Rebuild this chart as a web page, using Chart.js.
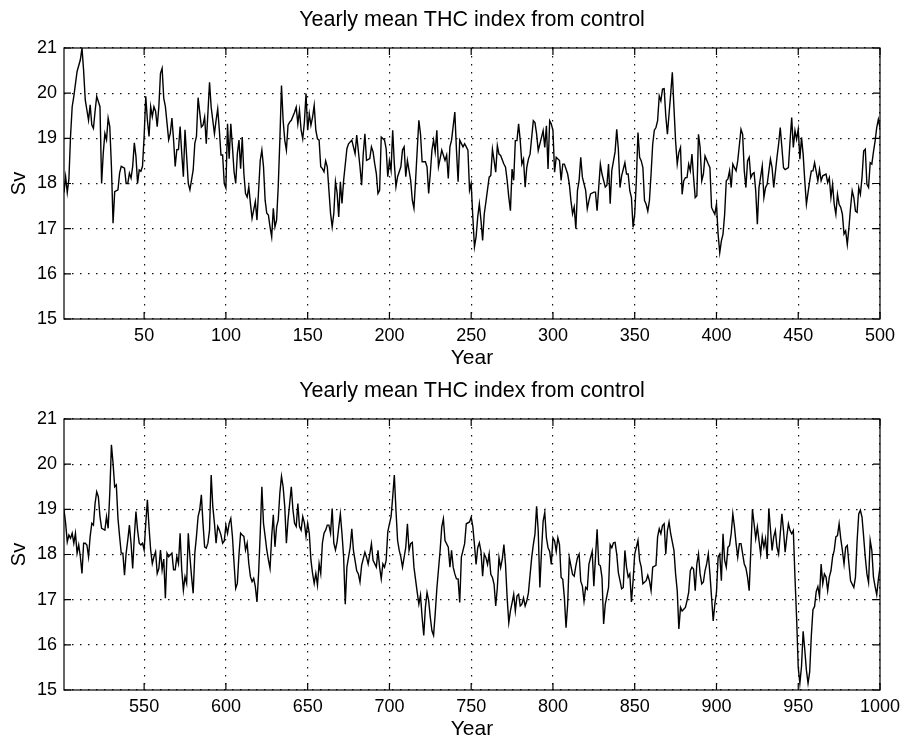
<!DOCTYPE html>
<html>
<head>
<meta charset="utf-8">
<script src="https://cdn.jsdelivr.net/npm/chart.js@4.4.0/dist/chart.umd.min.js"></script>
<style>
  html, body { margin: 0; padding: 0; background: #fff; }
  .panel { position: absolute; left: 0; width: 908px; height: 371px; }
</style>
</head>
<body>
<div class="panel" style="top:0"><canvas id="topChart"></canvas></div>
<div class="panel" style="top:371px"><canvas id="bottomChart"></canvas></div>
<script>
// Judul dan label
const chartTitle = 'Yearly mean THC index from control';
const xLabel = 'Year';
const yLabel = 'Sv';

// Tick label
const svTicks = [15, 16, 17, 18, 19, 20, 21];
const topYearTicks = [50, 100, 150, 200, 250, 300, 350, 400, 450, 500];
const bottomYearTicks = [550, 600, 650, 700, 750, 800, 850, 900, 950, 1000];

// Panel atas: tahun 1 - 500
const topYears = [
  1,2,3,4,5,6,7,9,11,12,
  13,14,16,17,18,19,20,21,23,24,
  25,26,27,28,29,30,31,32,34,35,
  36,38,39,40,41,42,43,44,45,46,
  47,48,49,50,51,52,53,54,55,56,
  57,58,59,60,61,62,63,65,66,67,
  68,69,70,71,72,73,74,75,76,77,
  78,80,81,82,83,85,86,87,88,90,
  91,93,94,95,96,97,98,99,100,101,
  102,103,104,105,106,107,108,109,110,111,
  112,113,114,115,116,118,119,120,121,122,
  123,124,125,126,127,128,129,130,131,132,
  133,134,135,136,137,138,139,140,142,143,
  144,145,146,147,148,149,150,151,152,153,
  154,155,156,157,158,159,160,161,162,163,
  164,165,166,167,168,169,170,171,172,174,
  175,177,178,179,180,182,183,184,185,186,
  188,189,190,191,192,193,194,195,197,198,
  199,200,201,202,203,204,205,207,208,209,
  210,211,213,214,215,216,217,218,219,220,
  222,223,224,225,226,227,228,229,230,231,
  232,234,235,236,237,238,240,241,242,243,
  245,246,247,248,249,250,251,252,253,254,
  255,256,257,258,259,261,262,263,264,265,
  266,267,268,270,271,272,273,274,275,276,
  277,278,279,280,281,282,283,284,285,286,
  288,289,290,291,293,294,295,296,297,298,
  299,300,301,302,304,305,306,307,309,310,
  311,312,313,314,315,316,317,318,320,321,
  322,323,325,326,327,328,329,330,332,333,
  334,335,336,338,339,340,341,342,344,345,
  346,347,348,349,350,351,352,353,354,355,
  356,357,358,359,360,361,362,363,364,365,
  366,367,368,369,370,371,372,373,374,375,
  376,377,378,379,380,381,382,383,384,385,
  386,387,388,389,390,391,392,393,395,396,
  397,398,399,400,401,402,403,404,405,406,
  407,408,409,410,411,412,413,415,416,417,
  418,419,420,421,422,423,424,425,426,428,
  429,430,431,433,434,435,437,438,439,440,
  441,442,444,445,446,447,448,449,450,451,
  452,453,454,455,457,458,459,460,462,463,
  464,465,467,468,469,470,471,472,473,474,
  475,476,477,478,479,480,481,482,483,484,
  485,486,487,488,489,490,491,492,493,494,
  495,496,497,498,499,500
];
const topSv = [
  17.8,18.15,17.8,18.1,19.05,19.7,19.93,20.48,20.74,21.0,
  20.5,19.85,19.4,19.74,19.3,19.22,19.6,19.93,19.7,18.0,
  18.67,19.11,18.97,19.45,19.26,18.38,17.12,17.82,17.86,18.23,
  18.38,18.34,18.0,18.0,18.23,18.12,18.38,18.9,18.6,18.0,
  18.3,18.27,18.38,19.04,19.93,19.4,19.04,19.7,19.48,19.7,
  19.6,19.26,19.7,20.44,20.55,19.89,19.7,18.97,19.11,19.45,
  18.97,18.38,18.75,18.75,19.26,18.67,18.15,19.19,18.6,18.0,
  17.86,18.3,18.89,19.04,19.9,19.25,19.29,19.47,18.88,20.24,
  19.69,19.1,19.4,19.65,19.18,18.63,18.63,18.0,17.9,19.32,
  18.55,19.32,18.81,18.26,18.0,18.66,18.96,18.33,19.03,18.22,
  17.78,17.7,17.93,17.56,17.23,17.6,17.19,17.85,18.51,18.74,
  18.37,17.63,17.34,17.3,17.04,16.82,17.45,17.04,17.19,17.93,
  18.96,20.17,19.4,18.96,18.74,19.29,19.36,19.4,19.58,19.69,
  19.32,19.62,19.18,18.99,19.36,19.99,19.18,19.54,19.29,19.47,
  19.73,19.18,18.99,18.96,18.37,18.33,18.26,18.5,18.37,17.85,
  17.34,17.04,17.34,18.04,17.8,17.26,18.04,17.56,18.07,18.77,
  18.88,18.96,18.81,18.66,19.07,18.37,17.96,18.66,19.1,18.51,
  18.55,18.81,18.7,18.44,18.22,17.78,17.85,19.03,18.96,18.77,
  18.15,18.51,18.29,19.18,18.44,17.93,18.15,18.37,18.74,18.81,
  18.15,18.51,18.07,17.63,17.45,18.07,18.74,19.4,19.1,18.48,
  18.48,18.37,17.78,18.22,18.74,18.96,18.7,19.18,18.37,18.55,
  18.74,18.51,18.63,18.11,18.81,18.96,19.58,18.74,18.04,18.96,
  18.81,18.88,18.81,18.74,17.85,18.0,17.26,16.6,16.82,17.26,
  17.55,17.18,16.74,17.33,17.59,18.14,18.18,18.76,18.51,18.25,
  18.84,18.65,18.62,18.43,18.36,18.07,17.7,17.4,18.32,18.07,
  18.95,18.95,19.32,18.95,18.43,18.54,17.92,18.36,18.54,18.65,
  19.39,19.35,19.1,18.73,19.02,19.17,18.8,19.28,18.32,19.39,
  19.32,19.17,18.25,18.58,18.51,18.07,18.43,18.43,18.21,17.99,
  17.62,17.33,17.48,17.0,17.85,18.07,18.58,18.14,17.85,17.44,
  17.62,17.77,17.81,17.81,17.4,17.92,18.43,18.21,17.92,17.96,
  18.43,17.55,18.29,18.7,19.2,18.76,17.91,18.17,18.46,18.21,
  18.21,17.84,17.69,17.03,17.32,18.06,19.13,18.58,18.5,18.35,
  17.62,17.54,17.39,17.62,18.21,18.87,19.18,19.24,19.39,19.94,
  19.83,20.09,20.1,19.5,19.09,19.54,19.98,20.46,19.68,18.94,
  18.43,18.69,18.8,17.76,18.06,18.13,18.13,18.43,18.28,18.65,
  18.13,17.69,17.73,19.09,18.8,18.06,18.21,18.61,18.43,18.35,
  17.47,17.39,17.32,17.54,16.88,16.47,16.73,16.88,17.32,18.06,
  18.1,18.28,17.91,18.43,18.35,18.28,18.5,19.2,19.09,18.28,
  17.91,18.5,18.58,18.13,18.21,18.24,17.84,17.1,17.91,18.39,
  17.69,17.91,17.98,18.54,18.35,17.91,18.58,18.87,19.24,18.8,
  18.35,18.31,18.35,18.94,19.46,18.8,19.17,18.98,19.2,18.54,
  19.02,18.65,18.06,17.54,18.06,18.28,18.28,18.46,18.06,18.31,
  18.06,18.17,18.21,18.02,18.13,17.69,17.98,17.54,17.32,17.76,
  17.54,17.47,17.32,16.88,16.95,16.65,17.02,17.47,17.84,17.69,
  17.39,17.36,17.91,17.76,18.13,18.72,18.76,17.98,17.91,18.46,
  18.43,18.7,18.94,19.24,19.42,19.24
];

// Panel bawah: tahun 501 - 1000
const bottomYears = [
  501,502,503,504,505,506,507,508,509,510,
  511,512,513,514,515,516,517,518,519,520,
  521,522,523,524,526,527,528,529,530,531,
  532,533,534,535,536,537,538,539,540,541,
  542,543,544,545,546,547,548,549,550,551,
  552,553,554,555,556,557,558,559,560,561,
  562,563,564,565,567,568,569,570,571,572,
  573,574,575,576,577,578,579,580,581,582,
  583,584,585,586,587,588,589,590,591,592,
  593,594,595,596,597,598,599,600,601,602,
  603,604,605,606,607,608,609,610,611,612,
  613,614,615,616,617,618,619,620,621,622,
  623,624,625,626,627,628,629,630,631,632,
  633,634,635,636,637,638,639,640,641,642,
  643,644,645,646,647,648,649,650,651,652,
  653,654,655,656,657,658,659,660,661,662,
  663,664,665,666,667,668,669,670,671,672,
  673,674,676,677,678,680,681,682,683,685,
  686,687,688,689,690,692,693,694,695,696,
  697,698,699,700,701,702,703,704,705,706,
  707,708,710,711,712,713,714,715,717,718,
  719,720,721,722,723,724,725,726,727,728,
  729,731,732,733,734,736,737,738,739,740,
  741,742,743,744,745,746,747,749,750,751,
  752,753,754,755,756,757,758,759,760,761,
  762,763,764,765,766,767,768,769,770,771,
  772,773,774,775,776,777,778,779,780,781,
  782,783,784,785,787,788,789,790,791,792,
  793,794,795,796,797,798,799,800,801,802,
  803,804,805,806,807,808,809,810,812,813,
  814,815,816,817,818,819,820,821,822,823,
  824,825,826,827,828,829,830,831,832,834,
  835,836,837,838,839,840,841,842,843,844,
  845,846,847,848,849,850,851,852,853,854,
  855,857,858,859,860,861,863,864,865,866,
  867,868,869,870,871,872,874,875,876,877,
  878,879,881,882,883,884,885,886,887,888,
  889,890,891,892,893,894,895,896,897,898,
  899,900,901,902,903,904,905,906,907,908,
  909,910,911,912,913,914,915,917,918,919,
  920,921,922,923,924,925,926,927,928,929,
  930,931,932,933,934,935,936,937,938,939,
  940,941,942,943,944,945,946,947,948,949,
  950,951,952,953,954,955,956,957,958,959,
  960,961,962,963,964,965,966,967,968,969,
  970,971,972,973,974,975,976,977,978,979,
  980,981,982,984,985,986,987,988,989,990,
  991,992,993,994,995,996,997,998,999,1000
];
const bottomSv = [
  18.99,18.69,18.28,18.43,18.36,18.47,18.25,18.47,18.03,18.21,
  17.95,17.58,18.25,18.25,18.21,17.95,18.4,18.69,18.65,19.13,
  19.39,19.28,18.84,18.58,18.54,18.84,18.58,19.36,20.43,20.02,
  19.5,19.54,18.8,18.4,18.03,18.03,17.54,18.03,18.32,18.65,
  18.25,17.69,18.4,18.95,18.54,18.25,18.21,18.25,18.1,18.69,
  19.21,18.6,18.1,17.8,17.95,18.06,17.58,17.69,18.1,17.66,
  17.9,17.03,18.03,17.95,18.03,17.66,17.66,17.95,17.8,18.47,
  17.66,17.21,17.51,17.36,18.47,17.95,17.51,17.14,18.03,18.4,
  18.84,18.99,19.32,18.69,18.17,18.14,18.25,18.54,19.76,19.06,
  18.69,18.25,18.62,18.54,18.43,18.25,18.3,18.65,18.47,18.69,
  18.8,18.4,17.8,17.25,17.36,18.0,18.47,18.43,18.4,18.1,
  18.25,17.8,17.51,17.4,17.47,17.29,16.95,17.58,18.47,19.5,
  18.69,18.4,18.1,17.88,17.69,18.4,18.88,18.17,18.62,18.76,
  19.36,19.73,19.5,19.06,18.25,18.76,19.13,19.5,18.99,18.69,
  18.62,19.13,18.62,18.54,18.84,18.7,18.4,18.69,18.47,17.88,
  17.58,17.36,17.58,17.32,17.8,17.58,18.25,18.47,18.54,18.65,
  18.65,18.47,19.02,18.25,18.1,18.28,18.6,18.9,18.46,17.94,
  16.9,17.72,18.16,18.57,18.09,17.64,17.57,17.39,17.76,18.05,
  17.94,17.79,18.01,18.24,17.87,17.72,18.09,17.72,17.46,17.79,
  17.72,17.87,18.5,18.68,18.83,19.27,19.76,18.98,18.31,18.09,
  17.94,17.72,18.16,18.68,18.09,18.24,18.27,17.72,17.16,16.9,
  17.1,16.61,16.21,16.83,17.16,16.98,16.61,16.31,16.21,16.69,
  17.24,18.09,18.61,18.79,18.31,18.16,17.72,18.09,17.72,17.57,
  17.46,17.46,16.94,17.94,18.09,18.24,18.68,18.72,18.83,18.62,
  18.22,17.78,18.15,18.26,18.07,17.52,18.01,17.93,17.78,18.01,
  17.56,17.49,17.34,16.86,17.27,17.93,17.71,17.89,18.22,17.78,
  17.04,16.49,16.75,16.93,17.12,16.75,17.08,17.12,16.86,16.9,
  17.04,16.86,16.97,17.15,17.93,18.22,18.45,19.07,18.52,17.27,
  18.07,18.74,18.93,18.37,18.15,18.07,17.78,18.37,18.3,18.07,
  18.37,18.22,17.49,17.45,17.04,16.38,16.9,17.93,17.56,17.52,
  17.75,17.93,18.01,17.41,17.3,16.97,17.27,17.23,17.78,17.93,
  18.07,17.3,17.93,18.56,17.78,17.75,17.49,16.46,16.9,17.27,
  18.22,18.15,18.26,18.27,18.01,17.6,17.42,17.24,17.27,18.09,
  17.72,17.5,17.57,16.95,17.42,18.01,18.16,18.31,17.87,17.72,
  17.35,17.42,17.54,17.42,17.2,17.72,17.76,18.39,18.57,18.46,
  18.64,18.68,18.01,18.53,18.72,18.46,18.09,17.57,17.2,16.35,
  16.83,16.75,16.83,16.98,17.16,17.64,17.72,17.68,17.2,17.79,
  18.01,17.57,17.35,17.39,17.64,17.79,18.01,17.57,17.05,16.53,
  16.9,17.16,17.94,18.01,17.42,18.46,17.87,17.72,18.16,18.2,
  18.46,18.9,18.61,18.24,17.94,18.24,18.24,17.79,17.7,17.5,
  17.2,18.09,19.0,18.68,18.35,18.61,18.31,18.01,18.39,18.16,
  18.35,17.9,19.02,18.57,18.09,18.39,18.53,18.16,18.01,18.46,
  18.9,18.53,18.05,18.39,18.68,18.53,18.46,18.53,17.5,16.6,
  15.5,15.15,15.52,16.3,15.89,15.44,15.15,15.4,16.2,16.78,
  16.85,17.18,17.29,17.07,17.79,17.35,17.57,17.5,17.2,17.5,
  17.64,17.94,18.09,18.39,18.42,18.68,18.35,18.09,17.79,18.16,
  18.2,17.79,17.42,17.27,17.5,18.3,18.9,18.98,18.83,18.39,
  17.94,17.57,17.38,18.31,18.09,17.5,17.29,17.11,17.45,17.72
];

const fontFamily = '"Liberation Sans", Arial, Helvetica, sans-serif';

// Plugin: bingkai kotak, tick ke dalam, dan judul di tengah area plot
const matlabFrame = {
  id: 'matlabFrame',
  afterDraw(chart, args, opts) {
    const { ctx, chartArea: a, scales } = chart;
    const tickLen = 7;
    ctx.save();
    ctx.strokeStyle = '#000';
    ctx.lineWidth = 1.2;
    ctx.strokeRect(a.left, a.top, a.right - a.left, a.bottom - a.top);

    ctx.beginPath();
    scales.x.ticks.forEach(t => {
      const px = scales.x.getPixelForValue(t.value);
      ctx.moveTo(px, a.bottom); ctx.lineTo(px, a.bottom - tickLen);
      ctx.moveTo(px, a.top); ctx.lineTo(px, a.top + tickLen);
    });
    scales.y.ticks.forEach(t => {
      const py = scales.y.getPixelForValue(t.value);
      ctx.moveTo(a.left, py); ctx.lineTo(a.left + tickLen, py);
      ctx.moveTo(a.right, py); ctx.lineTo(a.right - tickLen, py);
    });
    ctx.stroke();

    ctx.fillStyle = '#000';
    ctx.font = '21.5px ' + fontFamily;
    ctx.textAlign = 'center';
    ctx.textBaseline = 'middle';
    ctx.fillText(opts.text, (a.left + a.right) / 2, 20);
    ctx.restore();
  }
};

function makeChart(canvasId, years, values, xMin, xMax, xTicks) {
    const ctx = document.getElementById(canvasId).getContext('2d');
    const points = years.map((yr, i) => ({ x: yr, y: values[i] }));

    return new Chart(ctx, {
        type: 'line',
        data: {
            datasets: [{
                data: points,
                borderColor: '#000',
                borderWidth: 1.4,
                pointRadius: 0,
                tension: 0,
                fill: false
            }]
        },
        options: {
            responsive: true,
            maintainAspectRatio: false,
            animation: false,
            layout: { padding: { left: 0, right: 28, top: 48, bottom: 0 } },
            scales: {
                x: {
                    type: 'linear',
                    min: xMin,
                    max: xMax,
                    afterBuildTicks: s => { s.ticks = xTicks.map(v => ({ value: v })); },
                    afterFit: s => { s.height = 52; },
                    grid: { color: '#111', lineWidth: 1.2, drawTicks: false },
                    border: { display: false, dash: [1.5, 6.5] },
                    ticks: {
                        color: '#000',
                        padding: 6,
                        maxRotation: 0,
                        callback: v => String(v),
                        font: { family: fontFamily, size: 18 }
                    },
                    title: {
                        display: true,
                        text: xLabel,
                        color: '#000',
                        padding: { top: 0, bottom: 0 },
                        font: { family: fontFamily, size: 21 }
                    }
                },
                y: {
                    min: 15,
                    max: 21,
                    afterBuildTicks: s => { s.ticks = svTicks.map(v => ({ value: v })); },
                    afterFit: s => { s.width = 64; },
                    grid: { color: '#111', lineWidth: 1.2, drawTicks: false },
                    border: { display: false, dash: [1.5, 6.5] },
                    ticks: {
                        color: '#000',
                        padding: 7,
                        font: { family: fontFamily, size: 18 }
                    },
                    title: {
                        display: true,
                        text: yLabel,
                        color: '#000',
                        padding: { top: 7, bottom: 0 },
                        font: { family: fontFamily, size: 20 }
                    }
                }
            },
            plugins: {
                legend: { display: false },
                tooltip: { enabled: false },
                matlabFrame: { text: chartTitle }
            }
        },
        plugins: [matlabFrame]
    });
}

makeChart('topChart', topYears, topSv, 1, 500, topYearTicks);
makeChart('bottomChart', bottomYears, bottomSv, 501, 1000, bottomYearTicks);
</script>
</body>
</html>
